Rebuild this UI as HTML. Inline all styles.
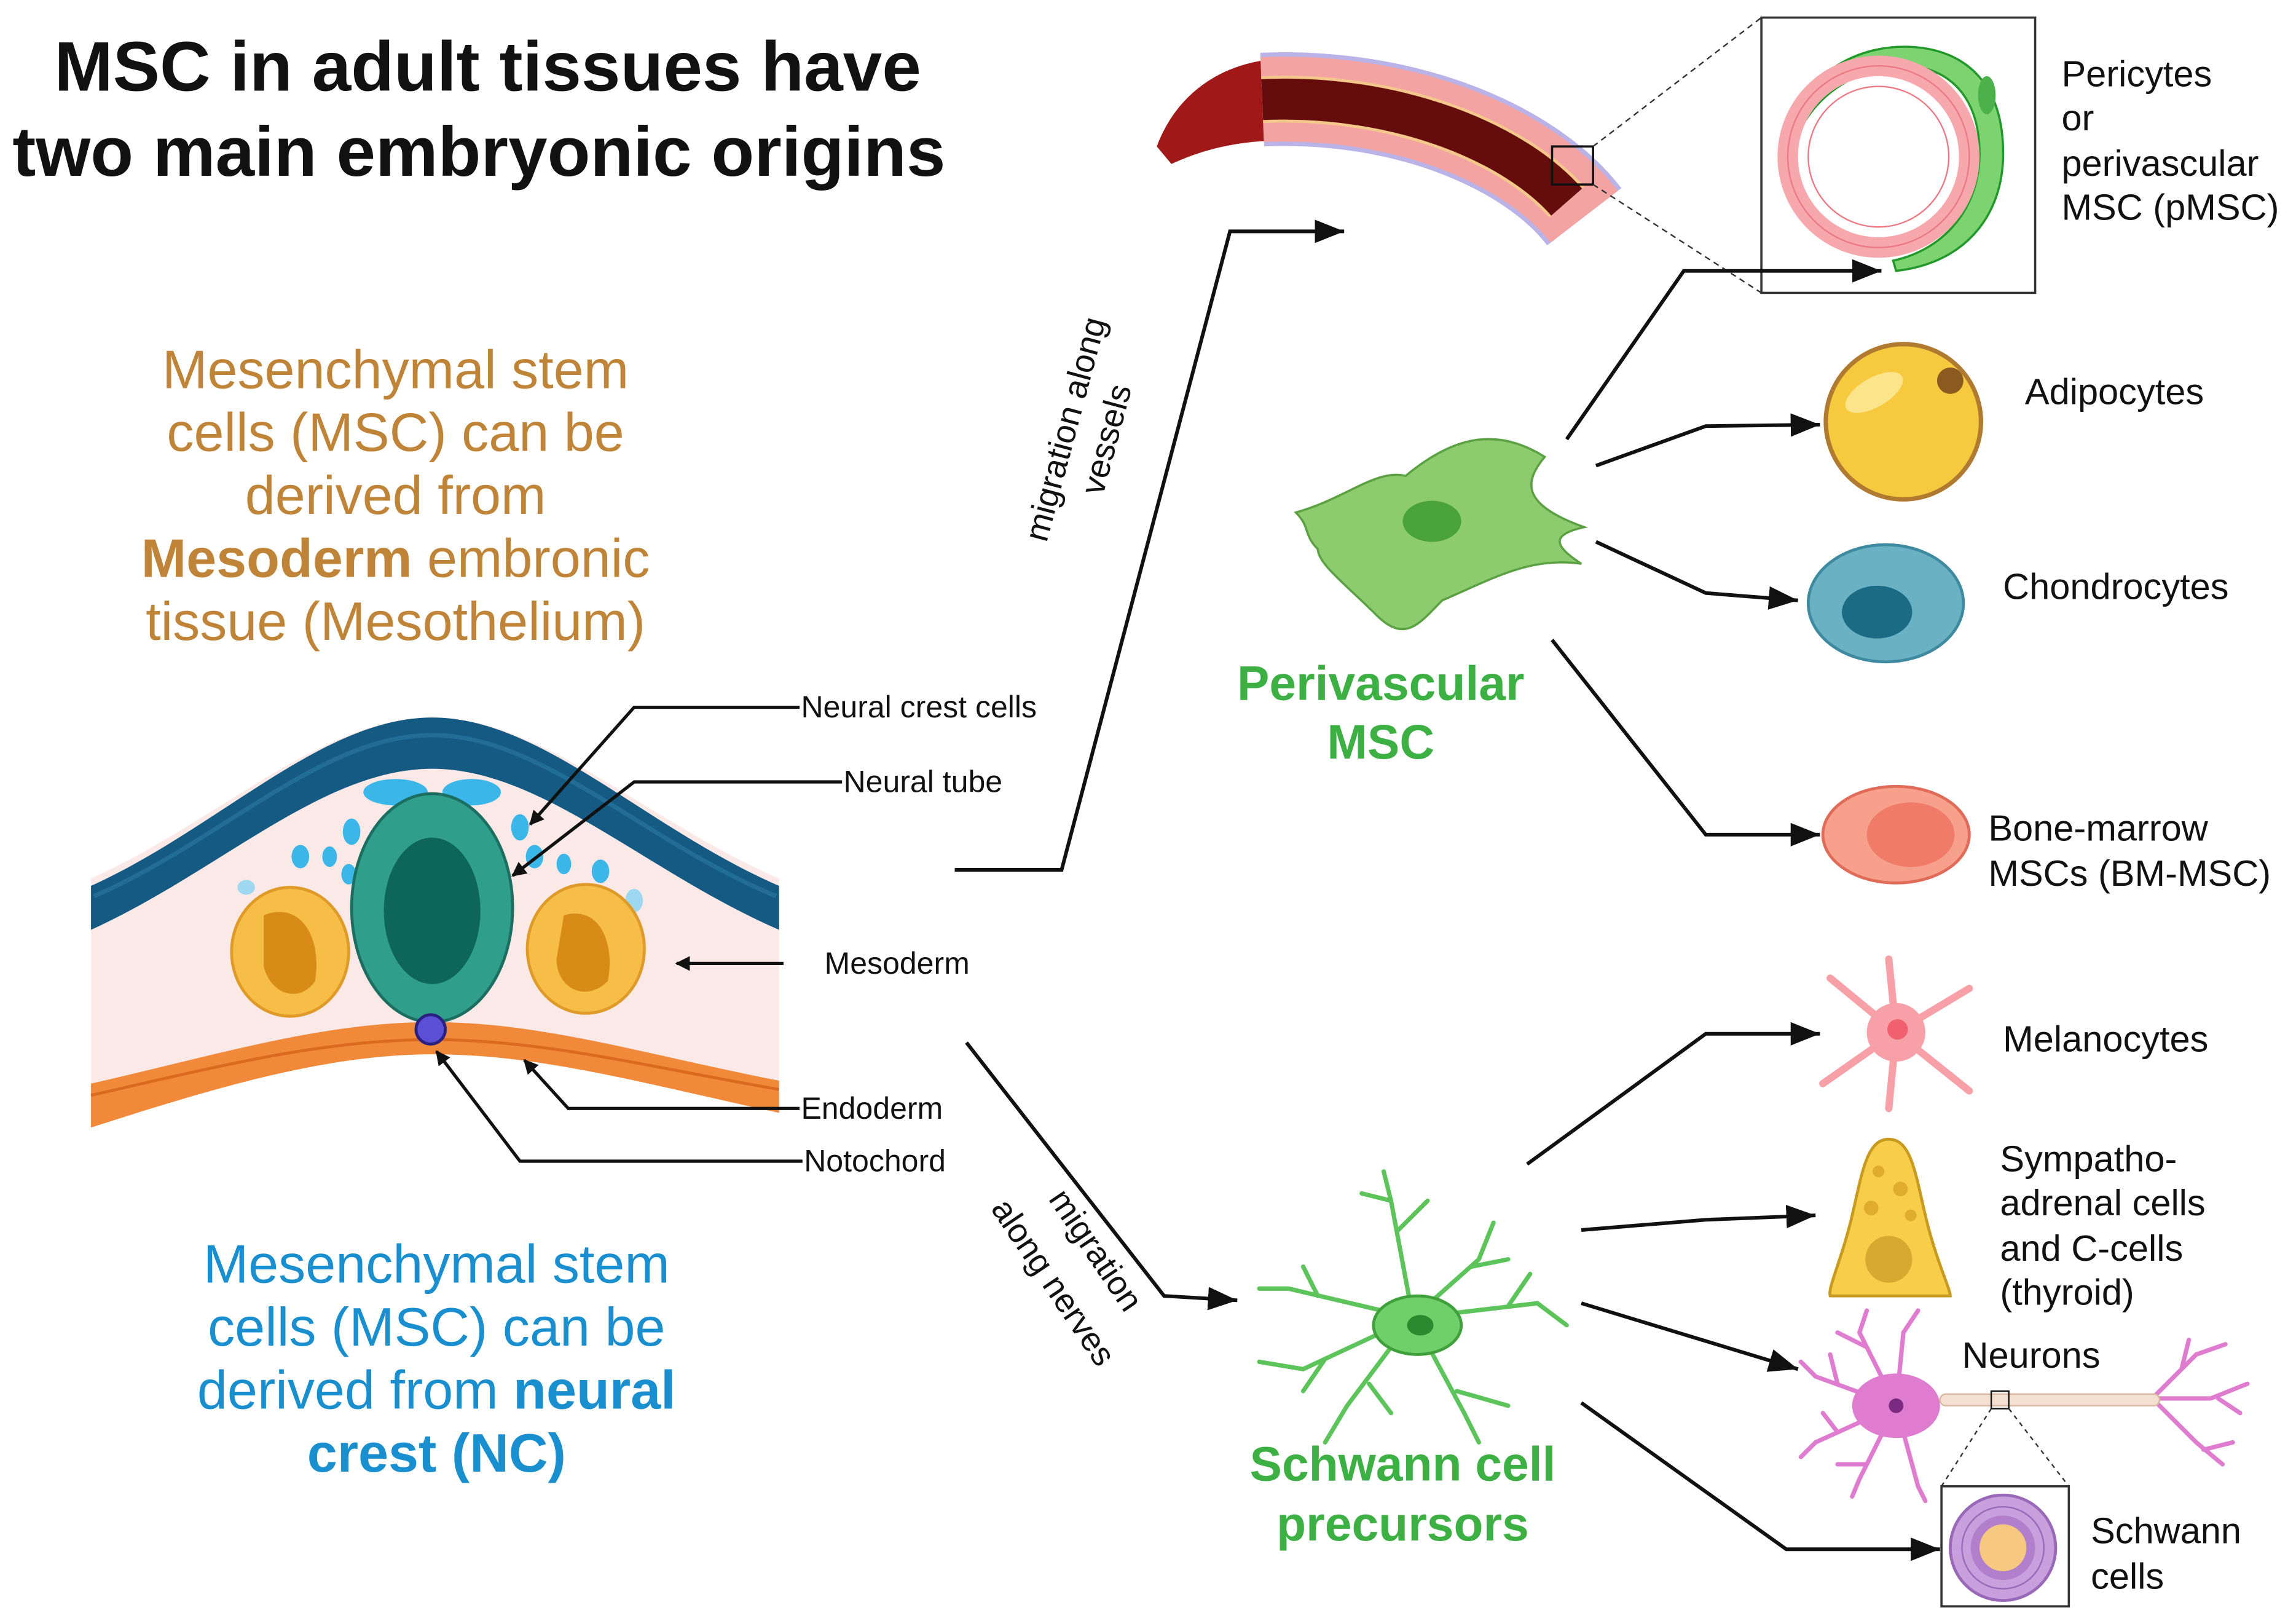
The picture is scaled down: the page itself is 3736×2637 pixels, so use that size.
<!DOCTYPE html>
<html><head><meta charset="utf-8"><style>
html,body{margin:0;padding:0;background:#fff;}
svg{display:block;}
text{font-family:"Liberation Sans",sans-serif;}
</style></head><body>
<svg width="3736" height="2637" viewBox="0 0 1568 1107" xmlns="http://www.w3.org/2000/svg">
<defs>
<marker id="ah" markerWidth="10" markerHeight="10" refX="9" refY="5" orient="auto" markerUnits="userSpaceOnUse"><path d="M0,0 L10,5 L0,10 z" fill="#111"/></marker>
<marker id="ah2" markerWidth="22" markerHeight="20" refX="20" refY="10" orient="auto" markerUnits="userSpaceOnUse"><path d="M0,2 L20,10 L0,18 z" fill="#111"/></marker>
</defs>
<rect width="1568" height="1107" fill="#fff"/>

<text x="333" y="62" font-size="48" font-weight="bold" text-anchor="middle" fill="#111">MSC in adult tissues have</text>
<text x="327" y="120" font-size="48" font-weight="bold" text-anchor="middle" fill="#111">two main embryonic origins</text>

<g font-size="37" fill="#c08438" text-anchor="middle">
<text x="270" y="265">Mesenchymal stem</text>
<text x="270" y="308">cells (MSC) can be</text>
<text x="270" y="351">derived from</text>
<text x="270" y="394"><tspan font-weight="bold">Mesoderm</tspan> embronic</text>
<text x="270" y="437">tissue (Mesothelium)</text>
</g>
<g font-size="37" fill="#1a8fd0" text-anchor="middle">
<text x="298" y="876">Mesenchymal stem</text>
<text x="298" y="919">cells (MSC) can be</text>
<text x="298" y="962">derived from <tspan font-weight="bold">neural</tspan></text>
<text x="298" y="1005" font-weight="bold">crest (NC)</text>
</g>

<path d="M62,600 C150,560 220,490 295,490 C370,490 440,560 532,600 L532,760 C440,735 370,712 295,712 C220,712 140,745 62,770 Z" fill="#fbe9e8"/>
<path d="M62,740 C150,720 220,698 295,698 C370,698 440,720 532,738 L532,760 C440,740 370,720 295,720 C220,720 140,745 62,770 Z" fill="#f08a3a"/>
<path d="M62,748 C150,728 220,710 295,710 C370,710 440,728 532,744" fill="none" stroke="#d96a20" stroke-width="2"/>
<path d="M62,605 C150,565 220,490 295,490 C370,490 440,565 532,605 L532,635 C440,595 370,525 295,525 C220,525 150,595 62,635 Z" fill="#155a82"/>
<path d="M64,612 C150,575 220,502 295,502 C370,502 440,575 530,612" fill="none" stroke="#2a7aa6" stroke-width="3" opacity="0.6"/>
<g fill="#3ab7e8">
<ellipse cx="270" cy="541" rx="22" ry="9"/><ellipse cx="322" cy="541" rx="20" ry="9"/>
<ellipse cx="240" cy="568" rx="6" ry="9"/><ellipse cx="355" cy="565" rx="6" ry="9"/>
<ellipse cx="225" cy="585" rx="5" ry="7"/><ellipse cx="365" cy="585" rx="6" ry="8"/>
<ellipse cx="205" cy="585" rx="6" ry="8"/><ellipse cx="385" cy="590" rx="5" ry="7"/>
<ellipse cx="410" cy="595" rx="6" ry="8"/><ellipse cx="238" cy="597" rx="5" ry="7"/>
<ellipse cx="168" cy="606" rx="6" ry="5" fill="#9ed8f0"/><ellipse cx="433" cy="615" rx="6" ry="8" fill="#9ed8f0"/>
</g>
<ellipse cx="198" cy="650" rx="40" ry="44" fill="#f6be46" stroke="#e09a28" stroke-width="2"/>
<path d="M180,625 C205,615 220,640 215,670 C205,685 185,680 180,660 Z" fill="#d98b18"/>
<ellipse cx="400" cy="648" rx="40" ry="44" fill="#f6be46" stroke="#e09a28" stroke-width="2"/>
<path d="M385,625 C410,618 420,645 415,670 C400,685 380,675 380,655 Z" fill="#d98b18"/>
<ellipse cx="295" cy="620" rx="55" ry="78" fill="#2f9e8a" stroke="#1c6e60" stroke-width="2"/>
<ellipse cx="295" cy="622" rx="33" ry="50" fill="#0e665a"/>
<circle cx="294" cy="703" r="10" fill="#5b4fd6" stroke="#2a2080" stroke-width="2"/>

<g font-size="21" fill="#111">
<text x="547" y="490">Neural crest cells</text>
<text x="576" y="541">Neural tube</text>
<text x="563" y="665">Mesoderm</text>
<text x="547" y="764">Endoderm</text>
<text x="549" y="800">Notochord</text>
</g>
<g stroke="#111" stroke-width="2.2" fill="none" marker-end="url(#ah)">
<polyline points="546,483 433,483 362,563"/>
<polyline points="575,534 433,534 350,598"/>
<line x1="535" y1="658" x2="462" y2="658"/>
<polyline points="546,757 388,757 358,724"/>
<polyline points="548,793 355,793 298,718"/>
</g>

<g stroke="#111" stroke-width="2.5" fill="none" marker-end="url(#ah2)">
<polyline points="652,594 725,594 840,158 918,158"/>
<polyline points="660,712 795,885 845,888"/>
</g>
<text transform="translate(735,295) rotate(-75)" font-size="23" text-anchor="middle" fill="#111">migration along</text>
<text transform="translate(763,302) rotate(-75)" font-size="23" text-anchor="middle" fill="#111">vessels</text>
<text transform="translate(742,858) rotate(56)" font-size="23" text-anchor="middle" fill="#111">migration</text>
<text transform="translate(713,880) rotate(56)" font-size="23" text-anchor="middle" fill="#111">along nerves</text>

<!-- vessel -->
<path d="M790,100 C805,60 840,40 880,40 L875,96 C840,96 815,105 800,112 Z" fill="#a01818"/>
<path d="M862,68 C960,64 1045,100 1082,148" fill="none" stroke="#b9b3e8" stroke-width="64"/>
<path d="M862,68 C960,64 1045,100 1082,148" fill="none" stroke="#f4a3a3" stroke-width="58"/>
<path d="M862,68 C955,64 1035,98 1070,138" fill="none" stroke="#f3c88a" stroke-width="32"/>
<path d="M862,68 C955,64 1035,98 1070,138" fill="none" stroke="#650d0d" stroke-width="28"/>
<rect x="1060" y="100" width="28" height="26" fill="none" stroke="#111" stroke-width="1.5"/>
<line x1="1088" y1="100" x2="1203" y2="12" stroke="#333" stroke-dasharray="4,3"/>
<line x1="1088" y1="126" x2="1203" y2="200" stroke="#333" stroke-dasharray="4,3"/>
<rect x="1203" y="12" width="187" height="188" fill="#fff" stroke="#333" stroke-width="1.5"/>
<path d="M1220,110 C1220,60 1260,30 1305,32 C1345,34 1370,60 1368,110 C1366,150 1340,180 1295,185 L1293,178 C1330,170 1352,140 1352,105 C1352,70 1335,48 1305,45 C1265,44 1230,70 1222,110 Z" fill="#7dd36f" stroke="#23992c" stroke-width="1.5"/>
<ellipse cx="1357" cy="65" rx="6" ry="13" fill="#4cb14a"/>
<circle cx="1283" cy="107" r="62" fill="none" stroke="#f7a8ad" stroke-width="14"/>
<circle cx="1283" cy="107" r="62" fill="none" stroke="#ec7a84" stroke-width="1"/>
<circle cx="1283" cy="107" r="48" fill="none" stroke="#ec7a84" stroke-width="1"/>
<g font-size="25" fill="#111">
<text x="1408" y="59">Pericytes</text><text x="1408" y="89">or</text>
<text x="1408" y="120">perivascular</text><text x="1408" y="150">MSC (pMSC)</text>
</g>

<path d="M885,350 C920,340 940,320 960,325 C990,300 1020,290 1055,312 C1040,330 1040,345 1082,360 C1060,365 1060,372 1080,385 C1045,380 1020,395 985,410 C970,425 960,440 940,420 C920,400 900,385 900,375 C890,365 895,360 885,350 Z" fill="#8ccb6e" stroke="#5ba144" stroke-width="1.5"/>
<ellipse cx="978" cy="356" rx="20" ry="14" fill="#4aa23a"/>
<text x="943" y="478" font-size="33" font-weight="bold" fill="#3cb043" text-anchor="middle">Perivascular</text>
<text x="943" y="518" font-size="33" font-weight="bold" fill="#3cb043" text-anchor="middle">MSC</text>

<g stroke="#111" stroke-width="2.5" fill="none" marker-end="url(#ah2)">
<polyline points="1070,300 1150,185 1285,185"/>
<polyline points="1090,318 1165,291 1243,290"/>
<polyline points="1090,370 1165,405 1228,410"/>
<polyline points="1060,437 1165,570 1243,570"/>
</g>

<circle cx="1300" cy="288" r="53" fill="#f7c93e" stroke="#b07a30" stroke-width="3"/>
<ellipse cx="1280" cy="268" rx="22" ry="10" fill="#fce48a" transform="rotate(-30 1280 268)"/>
<circle cx="1332" cy="260" r="9" fill="#8a5a20"/>
<text x="1383" y="276" font-size="25" fill="#111">Adipocytes</text>
<ellipse cx="1288" cy="412" rx="53" ry="40" fill="#6ab1c4" stroke="#3e8aa0" stroke-width="2"/>
<ellipse cx="1282" cy="418" rx="24" ry="18" fill="#1c6b85"/>
<text x="1368" y="409" font-size="25" fill="#111">Chondrocytes</text>
<ellipse cx="1295" cy="570" rx="50" ry="33" fill="#f7a08c" stroke="#e06b58" stroke-width="2"/>
<ellipse cx="1305" cy="570" rx="30" ry="22" fill="#ef7b68"/>
<text x="1358" y="574" font-size="25" fill="#111">Bone-marrow</text>
<text x="1358" y="605" font-size="25" fill="#111">MSCs (BM-MSC)</text>

<g stroke="#5cc45a" stroke-width="3" fill="none" stroke-linecap="round">
<path d="M965,900 L950,820 L945,800 M950,820 L930,815 M955,840 L975,820"/>
<path d="M965,900 L880,880 L860,880 M900,885 L890,865"/>
<path d="M965,900 L890,935 L860,930 M905,928 L890,950"/>
<path d="M965,900 L920,960 L905,985 M935,945 L950,965"/>
<path d="M965,900 L1000,965 L1010,985 M995,950 L1030,960"/>
<path d="M965,900 L1050,890 L1070,905 M1030,892 L1045,870"/>
<path d="M965,900 L1010,860 L1020,835 M1005,865 L1030,860"/>
</g>
<ellipse cx="968" cy="905" rx="30" ry="20" fill="#6fd06a" stroke="#3fa03c" stroke-width="2"/>
<ellipse cx="970" cy="905" rx="9" ry="7" fill="#2a8a30"/>
<text x="958" y="1011" font-size="33" font-weight="bold" fill="#3cb043" text-anchor="middle">Schwann cell</text>
<text x="958" y="1052" font-size="33" font-weight="bold" fill="#3cb043" text-anchor="middle">precursors</text>

<g stroke="#111" stroke-width="2.5" fill="none" marker-end="url(#ah2)">
<polyline points="1043,795 1165,706 1243,706"/>
<polyline points="1080,840 1165,833 1240,830"/>
<line x1="1080" y1="890" x2="1228" y2="935"/>
<polyline points="1080,958 1220,1058 1325,1058"/>
</g>

<g stroke="#f7a0a8" stroke-width="5" stroke-linecap="round">
<line x1="1295" y1="705" x2="1290" y2="655"/><line x1="1295" y1="705" x2="1345" y2="675"/>
<line x1="1295" y1="705" x2="1345" y2="745"/><line x1="1295" y1="705" x2="1290" y2="757"/>
<line x1="1295" y1="705" x2="1245" y2="740"/><line x1="1295" y1="705" x2="1250" y2="668"/>
</g>
<circle cx="1295" cy="705" r="20" fill="#f7a0a8"/>
<circle cx="1296" cy="703" r="7" fill="#f0606e"/>
<text x="1368" y="718" font-size="25" fill="#111">Melanocytes</text>

<path d="M1290,778 C1275,778 1272,800 1265,830 C1258,860 1248,880 1250,885 L1332,885 C1332,880 1322,860 1315,830 C1308,800 1305,778 1290,778 Z" fill="#f7cd4a" stroke="#c99a20" stroke-width="2"/>
<circle cx="1290" cy="860" r="16" fill="#d9a830"/>
<g fill="#e0ac30"><circle cx="1283" cy="800" r="4"/><circle cx="1298" cy="812" r="5"/><circle cx="1278" cy="825" r="5"/><circle cx="1305" cy="830" r="4"/></g>
<g font-size="25" fill="#111">
<text x="1366" y="800">Sympatho-</text><text x="1366" y="830">adrenal cells</text>
<text x="1366" y="861">and C-cells</text><text x="1366" y="891">(thyroid)</text>
</g>

<g stroke="#e07cd0" stroke-width="3" fill="none" stroke-linecap="round">
<path d="M1295,960 L1240,940 L1230,930 M1255,945 L1250,925"/>
<path d="M1295,960 L1270,910 L1275,895 M1275,920 L1255,910"/>
<path d="M1295,960 L1300,910 L1310,895"/>
<path d="M1295,960 L1240,985 L1230,995 M1255,978 L1245,965"/>
<path d="M1295,960 L1270,1010 L1265,1022 M1275,1000 L1255,1000"/>
<path d="M1295,960 L1310,1015 L1315,1025"/>
<path d="M1470,955 L1500,925 L1520,918 M1490,935 L1495,915"/>
<path d="M1470,955 L1510,955 L1535,945 M1515,955 L1530,965"/>
<path d="M1470,955 L1500,985 L1518,1000 M1505,990 L1525,985"/>
</g>
<ellipse cx="1295" cy="960" rx="30" ry="22" fill="#e07cd0"/>
<circle cx="1295" cy="960" r="5" fill="#7a2a80"/>
<rect x="1325" y="952" width="150" height="8" rx="4" fill="#f4e0d0" stroke="#d8b8a0" stroke-width="1"/>
<rect x="1360" y="950" width="12" height="12" fill="none" stroke="#111" stroke-width="1"/>
<line x1="1360" y1="962" x2="1326" y2="1015" stroke="#333" stroke-dasharray="3,3"/>
<line x1="1372" y1="962" x2="1413" y2="1015" stroke="#333" stroke-dasharray="3,3"/>
<text x="1340" y="934" font-size="25" fill="#111">Neurons</text>

<rect x="1326" y="1015" width="87" height="82" fill="#fff" stroke="#333" stroke-width="1.5"/>
<circle cx="1368" cy="1057" r="36" fill="#c7a0dd" stroke="#9a68b8" stroke-width="2"/>
<circle cx="1368" cy="1057" r="28" fill="none" stroke="#9a68b8" stroke-width="1"/>
<circle cx="1368" cy="1057" r="22" fill="#b27fcc"/>
<circle cx="1368" cy="1057" r="16" fill="#f7c980"/>
<text x="1428" y="1054" font-size="25" fill="#111">Schwann</text>
<text x="1428" y="1085" font-size="25" fill="#111">cells</text>
</svg>
</body></html>
